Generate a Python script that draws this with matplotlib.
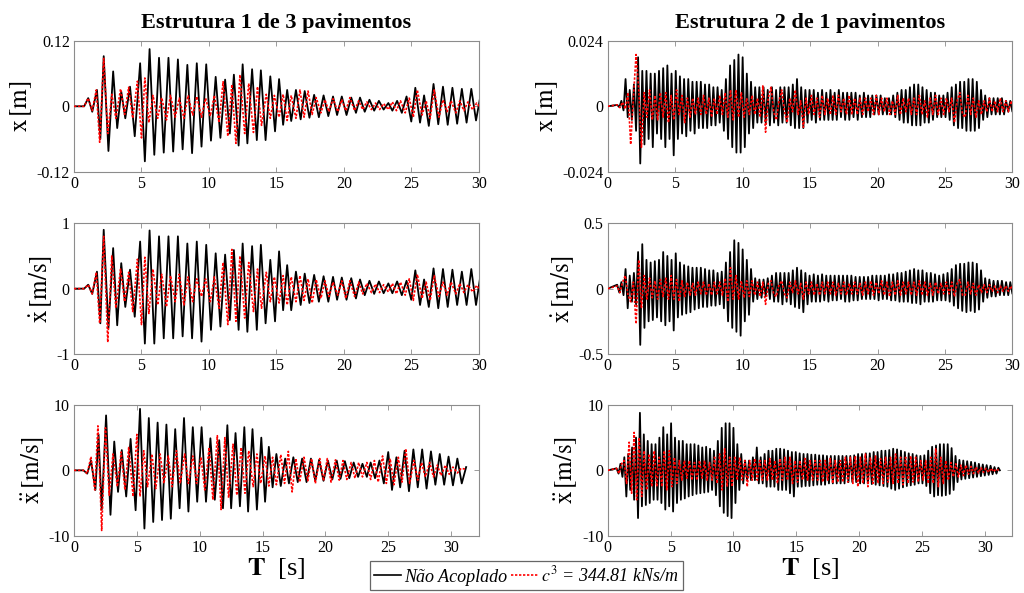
import matplotlib.pyplot as plt
import numpy as np
from matplotlib.lines import Line2D

plt.rcParams["font.family"] = ["Liberation Serif", "DejaVu Serif"]
plt.rcParams["mathtext.fontset"] = "stix"
plt.rcParams["axes.unicode_minus"] = False

# ---- Estrutura 1 (3 pavimentos): extremes ----
# times of the black (uncoupled) extremes [s]
t1_black = [
    0.0, 0.75, 1.05, 1.35, 1.7, 1.95, 2.2, 2.55, 2.9, 3.2,
    3.5, 3.8, 4.15, 4.5, 4.9, 5.25, 5.6, 5.95, 6.3, 6.65,
    7.0, 7.35, 7.7, 8.05, 8.4, 8.75, 9.1, 9.45, 9.8, 10.15,
    10.5, 10.85, 11.2, 11.55, 11.85, 12.2, 12.5, 12.85, 13.2, 13.55,
    13.85, 14.2, 14.55, 14.9, 15.2, 15.5, 15.8, 16.1, 16.45, 16.8,
    17.1, 17.45, 17.8, 18.15, 18.5, 18.85, 19.2, 19.5, 19.85, 20.2,
    20.55, 20.9, 21.2, 21.55, 21.9, 22.25, 22.6, 22.95, 23.3, 23.6,
    23.95, 24.3, 24.65, 25.0, 25.3, 25.65, 25.95, 26.3, 26.65, 27.0,
    27.35, 27.7, 28.05, 28.4, 28.75, 29.1, 29.45, 29.8, 30.15, 30.5,
    30.85, 31.2]
x1_black = [
    0, 0, 0.015, -0.010, 0.030, -0.060, 0.092, -0.082, 0.064, -0.040,
    0.027, -0.022, 0.036, -0.055, 0.079, -0.101, 0.105, -0.089, 0.089, -0.085,
    0.089, -0.083, 0.086, -0.079, 0.076, -0.086, 0.079, -0.074, 0.077, -0.063,
    0.054, -0.058, 0.049, -0.050, 0.058, -0.072, 0.077, -0.068, 0.068, -0.062,
    0.066, -0.062, 0.055, -0.046, 0.050, -0.034, 0.030, -0.027, 0.030, -0.024,
    0.028, -0.021, 0.021, -0.020, 0.020, -0.018, 0.018, -0.016, 0.018, -0.016,
    0.016, -0.012, 0.016, -0.010, 0.012, -0.008, 0.010, -0.006, 0.006, -0.008,
    0.010, -0.012, 0.018, -0.028, 0.034, -0.030, 0.020, -0.036, 0.041, -0.033,
    0.036, -0.034, 0.034, -0.032, 0.032, -0.030, 0.032, -0.026, 0.022, -0.020,
    0.020, -0.020]
v1_black = [
    0, 0, 0.06, -0.08, 0.26, -0.53, 0.90, -0.60, 0.62, -0.56,
    0.39, -0.28, 0.29, -0.43, 0.72, -0.84, 0.89, -0.84, 0.80, -0.76,
    0.80, -0.76, 0.80, -0.73, 0.69, -0.76, 0.72, -0.81, 0.67, -0.63,
    0.54, -0.58, 0.52, -0.48, 0.59, -0.63, 0.69, -0.66, 0.65, -0.63,
    0.67, -0.53, 0.44, -0.50, 0.57, -0.33, 0.36, -0.33, 0.26, -0.25,
    0.23, -0.22, 0.21, -0.20, 0.19, -0.20, 0.18, -0.17, 0.17, -0.17,
    0.16, -0.15, 0.14, -0.10, 0.12, -0.08, 0.11, -0.07, 0.08, -0.07,
    0.11, -0.10, 0.12, -0.17, 0.28, -0.25, 0.14, -0.28, 0.31, -0.30,
    0.30, -0.28, 0.29, -0.25, 0.26, -0.25, 0.30, -0.25, 0.23, -0.20,
    0.20, -0.20]
a1_black = [
    0, 0, -0.5, 1.5, -3.0, 5.5, -6.0, 8.4, -6.8, 4.4,
    -3.3, 3.1, -4.0, 4.8, -6.1, 9.4, -8.9, 8.0, -7.9, 7.3,
    -7.6, 7.0, -7.4, 6.3, -5.8, 8.0, -6.3, 6.6, -4.8, 6.6,
    -4.8, 4.9, -4.5, 4.6, -5.8, 6.9, -5.8, 5.7, -5.5, 6.6,
    -6.3, 6.3, -6.0, 5.0, -4.8, 3.6, -2.6, 2.5, -2.4, 1.8,
    -2.0, 2.0, -1.8, 1.8, -1.8, 1.8, -1.6, 1.6, -1.6, 1.5,
    -1.4, 1.5, -1.3, 1.4, -1.2, 1.2, -1.0, 1.0, -1.0, 1.2,
    -1.2, 1.5, -2.0, 2.8, -3.0, 2.0, -2.6, 3.0, -3.2, 3.2,
    -2.6, 3.2, -2.8, 2.9, -2.2, 2.5, -2.2, 2.1, -2.3, 1.8,
    -2.0, 0.5]

# times of the red (coupled) extremes [s]
t1_red = [
    0.0, 0.75, 1.05, 1.35, 1.65, 1.9, 2.2, 2.5, 2.8, 3.1,
    3.45, 3.75, 4.05, 4.35, 4.7, 5.0, 5.25, 5.55, 5.85, 6.2,
    6.5, 6.85, 7.15, 7.5, 7.8, 8.15, 8.45, 8.8, 9.1, 9.45,
    9.75, 10.1, 10.4, 10.75, 11.05, 11.4, 11.7, 12.0, 12.3, 12.65,
    12.95, 13.3, 13.6, 13.9, 14.25, 14.55, 14.85, 15.2, 15.5, 15.8,
    16.1, 16.45, 16.75, 17.05, 17.35, 17.65, 17.95, 18.3, 18.6, 18.9,
    19.2, 19.55, 19.85, 20.15, 20.45, 20.8, 21.1, 21.4, 21.7, 22.05,
    22.35, 22.65, 22.95, 23.3, 23.6, 23.9, 24.2, 24.55, 24.85, 25.15,
    25.45, 25.8, 26.1, 26.4, 26.7, 27.05, 27.35, 27.65, 27.95, 28.3,
    28.6, 28.9, 29.2, 29.55, 29.85, 30.15, 30.5, 30.8, 31.1]
x1_red = [
    0, 0, 0.015, -0.008, 0.030, -0.066, 0.088, -0.050, 0.022, -0.022,
    0.032, -0.015, 0.035, -0.022, 0.046, -0.058, 0.052, -0.030, 0.020, -0.022,
    0.016, -0.025, 0.020, -0.020, 0.015, -0.022, 0.020, -0.016, 0.018, -0.020,
    0.015, -0.018, 0.020, -0.030, 0.045, -0.055, 0.040, -0.068, 0.058, -0.050,
    0.042, -0.048, 0.036, -0.035, 0.022, -0.022, 0.020, -0.020, 0.022, -0.026,
    0.020, -0.022, 0.030, -0.020, 0.028, -0.015, 0.016, -0.012, 0.012, -0.010,
    0.014, -0.010, 0.012, -0.008, 0.016, -0.008, 0.010, -0.006, 0.008, -0.006,
    0.006, -0.006, 0.005, -0.006, 0.008, -0.008, 0.010, -0.012, 0.015, -0.020,
    0.030, -0.016, 0.010, -0.022, 0.030, -0.020, 0.012, -0.010, 0.010, -0.012,
    0.010, -0.008, 0.008, -0.006, 0.006, -0.004, 0.004, -0.003, 0.002]
v1_red = [
    0, 0, 0.06, -0.08, 0.25, -0.53, 0.80, -0.82, 0.50, -0.30,
    0.30, -0.20, 0.25, -0.35, 0.45, -0.55, 0.48, -0.38, 0.30, -0.25,
    0.22, -0.28, 0.20, -0.20, 0.22, -0.25, 0.18, -0.20, 0.15, -0.12,
    0.15, -0.20, 0.18, -0.30, 0.40, -0.55, 0.60, -0.50, 0.50, -0.45,
    0.40, -0.35, 0.30, -0.30, 0.25, -0.20, 0.18, -0.22, 0.20, -0.25,
    0.18, -0.20, 0.20, -0.18, 0.15, -0.22, 0.14, -0.15, 0.12, -0.12,
    0.10, -0.10, 0.12, -0.15, 0.12, -0.12, 0.10, -0.08, 0.08, -0.06,
    0.07, -0.06, 0.06, -0.05, 0.08, -0.08, 0.10, -0.10, 0.15, -0.18,
    0.22, -0.15, 0.10, -0.18, 0.20, -0.12, 0.10, -0.10, 0.10, -0.08,
    0.08, -0.06, 0.06, -0.05, 0.05, -0.04, 0.04, -0.03, 0.02]
a1_red = [
    0, 0, -0.5, 2.1, -3.0, 6.8, -9.2, 6.5, -3.8, 2.5,
    -2.5, 2.8, -3.0, 3.5, -4.0, 5.5, -4.0, 3.0, -2.5, 2.5,
    -2.8, 2.5, -2.0, 2.2, -2.5, 3.0, -2.0, 2.5, -2.0, 2.2,
    -2.0, 2.0, -3.0, 3.5, -4.5, 5.3, -6.0, 5.0, -4.2, 4.0,
    -3.8, 3.5, -3.5, 3.0, -2.5, 2.5, -2.0, 2.2, -2.4, 2.0,
    -2.2, 2.4, -2.0, 2.9, -3.3, 1.8, -1.8, 2.0, -1.6, 1.8,
    -2.0, 1.8, -1.6, 1.8, -1.8, 1.6, -1.5, 1.5, -1.4, 1.2,
    -1.2, 1.2, -1.0, 1.2, -1.4, 1.5, -1.8, 2.2, -2.0, 1.8,
    -2.2, 2.0, -1.8, 3.3, -2.0, 1.5, -1.5, 1.2, -1.0, 1.2,
    -1.0, 0.8, -0.8, 0.8, -0.6, 0.5, -0.4, 0.3, 0.2]

# ---- Estrutura 2 (1 pavimento) ----
t2_black = [
    0.0,
    0.70, 0.86, 1.01, 1.17, 1.32, 1.48, 1.63, 1.79, 1.94, 2.10,
    2.25, 2.41, 2.56, 2.72, 2.87, 3.03, 3.18, 3.34, 3.49, 3.65,
    3.80, 3.96, 4.11, 4.27, 4.42, 4.58, 4.73, 4.89, 5.04, 5.20,
    5.35, 5.51, 5.66, 5.82, 5.97, 6.13, 6.28, 6.44, 6.59, 6.75,
    6.90, 7.06, 7.21, 7.37, 7.52, 7.68, 7.83, 7.99, 8.14, 8.30,
    8.45, 8.61, 8.76, 8.92, 9.07, 9.23, 9.38, 9.54, 9.69, 9.85,
    10.00, 10.16, 10.31, 10.47, 10.62, 10.78, 10.93, 11.09, 11.24, 11.40,
    11.55, 11.71, 11.86, 12.02, 12.17, 12.33, 12.48, 12.64, 12.79, 12.95,
    13.10, 13.26, 13.41, 13.57, 13.72, 13.88, 14.03, 14.19, 14.34, 14.50,
    14.65, 14.81, 14.96, 15.12, 15.27, 15.43, 15.58, 15.74, 15.89, 16.05,
    16.20, 16.36, 16.51, 16.67, 16.82, 16.98, 17.13, 17.29, 17.44, 17.60,
    17.75, 17.91, 18.06, 18.22, 18.37, 18.53, 18.68, 18.84, 18.99, 19.15,
    19.30, 19.46, 19.61, 19.77, 19.92, 20.08, 20.23, 20.39, 20.54, 20.70,
    20.85, 21.01, 21.16, 21.32, 21.47, 21.63, 21.78, 21.94, 22.09, 22.25,
    22.40, 22.56, 22.71, 22.87, 23.02, 23.18, 23.33, 23.49, 23.64, 23.80,
    23.95, 24.11, 24.26, 24.42, 24.57, 24.73, 24.88, 25.04, 25.19, 25.35,
    25.50, 25.66, 25.81, 25.97, 26.12, 26.28, 26.43, 26.59, 26.74, 26.90,
    27.05, 27.21, 27.36, 27.52, 27.67, 27.83, 27.98, 28.14, 28.29, 28.45,
    28.60, 28.76, 28.91, 29.07, 29.22, 29.38, 29.53, 29.69, 29.84, 30.00,
    30.15, 30.31, 30.46, 30.62, 30.77, 30.93, 31.08, 31.20]
x2_black_mm = [
    0.0,
    0.5, -0.3, 2.0, -1.5, 10.0, -4.0, 6.0, -5.0, 8.0, -9.0,
    18.0, -21.0, 13.0, -14.0, 13.0, -12.0, 12.0, -15.0, 12.0, -10.0,
    13.0, -12.0, 14.0, -15.0, 15.0, -12.0, 12.0, -18.0, 13.0, -12.0,
    11.0, -10.0, 10.0, -11.0, 10.0, -9.0, 9.0, -10.0, 9.0, -8.0,
    9.0, -8.0, 8.0, -8.0, 8.0, -7.0, 7.0, -7.0, 7.0, -6.0,
    6.0, -9.0, 10.0, -12.0, 15.0, -15.0, 17.0, -17.0, 19.0, -17.0,
    18.0, -15.0, 12.0, -10.0, 9.0, -8.0, 7.0, -6.0, 7.0, -6.0,
    7.0, -6.0, 6.0, -7.0, 7.0, -6.0, 6.0, -7.0, 7.0, -6.0,
    7.0, -6.0, 7.0, -7.0, 8.0, -8.0, 10.0, -8.0, 7.0, -8.0,
    6.0, -6.0, 6.0, -5.0, 6.0, -6.0, 5.0, -5.0, 6.0, -5.0,
    5.0, -5.0, 6.0, -5.0, 5.0, -5.0, 6.0, -4.0, 5.0, -5.0,
    5.0, -5.0, 5.0, -4.0, 5.0, -5.0, 4.0, -4.0, 5.0, -4.0,
    4.0, -4.0, 4.0, -3.0, 4.0, -3.0, 4.0, -3.0, 3.0, -3.0,
    3.0, -3.0, 4.0, -4.0, 5.0, -5.0, 6.0, -6.0, 6.0, -6.0,
    7.0, -7.0, 8.0, -7.0, 8.0, -7.0, 7.0, -6.0, 6.0, -6.0,
    5.0, -5.0, 5.0, -4.0, 4.0, -4.0, 4.0, -4.0, 5.0, -5.0,
    7.0, -7.0, 8.0, -8.0, 9.0, -8.0, 9.0, -9.0, 10.0, -9.0,
    10.0, -9.0, 9.0, -8.0, 6.0, -5.0, 4.0, -4.0, 3.0, -3.0,
    3.0, -3.0, 3.0, -3.0, 3.0, -3.0, 2.0, -2.0, 2.0, -2.0,
    2.0, -2.0, 2.0, -2.0, 1.0, -1.0, 1.0, 0.0]
v2_black = [
    0.0,
    0.03, -0.03, 0.05, -0.05, 0.15, -0.15, 0.10, -0.10, 0.12, -0.12,
    0.28, -0.43, 0.34, -0.30, 0.22, -0.25, 0.20, -0.24, 0.21, -0.22,
    0.22, -0.25, 0.28, -0.28, 0.25, -0.25, 0.22, -0.32, 0.27, -0.22,
    0.20, -0.20, 0.18, -0.19, 0.17, -0.18, 0.16, -0.16, 0.16, -0.15,
    0.16, -0.14, 0.15, -0.14, 0.14, -0.13, 0.14, -0.13, 0.12, -0.12,
    0.13, -0.15, 0.20, -0.25, 0.28, -0.30, 0.37, -0.33, 0.35, -0.36,
    0.30, -0.25, 0.22, -0.20, 0.15, -0.10, 0.08, -0.08, 0.07, -0.07,
    0.07, -0.06, 0.08, -0.08, 0.10, -0.10, 0.12, -0.10, 0.12, -0.12,
    0.12, -0.10, 0.12, -0.12, 0.14, -0.14, 0.16, -0.15, 0.14, -0.18,
    0.12, -0.12, 0.10, -0.10, 0.11, -0.10, 0.10, -0.10, 0.11, -0.09,
    0.10, -0.10, 0.10, -0.09, 0.10, -0.09, 0.10, -0.08, 0.10, -0.10,
    0.10, -0.10, 0.10, -0.09, 0.09, -0.09, 0.09, -0.08, 0.09, -0.08,
    0.09, -0.08, 0.10, -0.08, 0.10, -0.09, 0.10, -0.08, 0.10, -0.08,
    0.11, -0.09, 0.11, -0.09, 0.12, -0.10, 0.12, -0.10, 0.13, -0.10,
    0.14, -0.11, 0.15, -0.11, 0.14, -0.12, 0.14, -0.10, 0.12, -0.10,
    0.12, -0.10, 0.11, -0.09, 0.10, -0.09, 0.11, -0.09, 0.12, -0.10,
    0.15, -0.13, 0.18, -0.15, 0.19, -0.17, 0.19, -0.18, 0.20, -0.17,
    0.20, -0.18, 0.19, -0.16, 0.14, -0.10, 0.08, -0.07, 0.07, -0.06,
    0.06, -0.06, 0.06, -0.05, 0.06, -0.05, 0.05, -0.05, 0.05, -0.04,
    0.04, -0.04, 0.04, -0.03, 0.03, -0.02, 0.02, 0.0]
a2_black = [
    0.0,
    0.3, -0.5, 1.0, -1.0, 2.0, -4.0, 2.5, -3.0, 3.5, -4.5,
    5.0, -7.3, 8.8, -5.5, 5.5, -5.3, 4.5, -5.0, 4.0, -4.5,
    4.0, -4.5, 5.0, -5.0, 6.6, -6.0, 5.5, -5.5, 7.2, -6.3,
    5.0, -5.0, 4.5, -4.5, 4.5, -4.3, 4.0, -4.0, 4.0, -3.8,
    4.0, -3.6, 3.8, -3.5, 3.5, -3.4, 3.6, -3.3, 3.3, -3.0,
    3.0, -3.8, 4.5, -5.5, 6.5, -6.5, 7.2, -7.0, 7.2, -7.3,
    6.5, -5.0, 4.0, -3.0, 2.5, -2.0, 1.5, -1.5, 1.5, -1.5,
    2.0, -1.5, 3.5, -2.0, 2.0, -2.0, 2.5, -2.5, 3.0, -2.5,
    3.0, -2.5, 3.3, -3.0, 3.3, -3.0, 3.2, -3.0, 3.0, -3.5,
    2.8, -4.0, 2.8, -2.5, 2.6, -2.5, 2.5, -2.4, 2.5, -2.4,
    2.4, -2.3, 2.4, -2.2, 2.3, -2.2, 2.3, -2.2, 2.2, -2.0,
    2.2, -2.0, 2.2, -2.0, 2.2, -2.0, 2.2, -2.0, 2.2, -1.8,
    2.2, -1.8, 2.3, -1.8, 2.5, -2.0, 2.5, -2.0, 2.6, -2.0,
    2.6, -2.1, 2.8, -2.2, 2.8, -2.3, 3.0, -2.4, 3.0, -2.5,
    3.1, -2.8, 3.3, -3.0, 3.2, -2.8, 3.0, -2.6, 2.8, -2.4,
    2.6, -2.3, 2.5, -2.2, 2.3, -2.0, 2.2, -2.0, 2.3, -2.4,
    3.0, -3.5, 3.6, -4.0, 3.8, -3.8, 4.0, -3.9, 4.0, -3.8,
    4.0, -3.6, 3.4, -3.0, 2.2, -1.8, 1.6, -1.4, 1.5, -1.3,
    1.4, -1.2, 1.3, -1.1, 1.2, -1.0, 1.0, -0.9, 0.9, -0.8,
    0.8, -0.7, 0.7, -0.6, 0.5, -0.5, 0.4, 0.0]

t2_red = [
    0.0,
    0.7, 0.9, 1.1, 1.3, 1.5, 1.7, 1.9, 2.1, 2.3, 2.5,
    2.7, 2.9, 3.1, 3.3, 3.5, 3.7, 3.9, 4.1, 4.3, 4.5,
    4.7, 4.9, 5.1, 5.3, 5.5, 5.7, 5.9, 6.1, 6.3, 6.5,
    6.7, 6.9, 7.1, 7.3, 7.5, 7.7, 7.9, 8.1, 8.3, 8.5,
    8.7, 8.9, 9.1, 9.3, 9.5, 9.7, 9.9, 10.1, 10.3, 10.5,
    10.7, 10.9, 11.1, 11.3, 11.5, 11.7, 11.9, 12.1, 12.3, 12.5,
    12.7, 12.9, 13.1, 13.3, 13.5, 13.7, 13.9, 14.1, 14.3, 14.5,
    14.7, 14.9, 15.1, 15.3, 15.5, 15.7, 15.9, 16.1, 16.3, 16.5,
    16.7, 16.9, 17.1, 17.3, 17.5, 17.7, 17.9, 18.1, 18.3, 18.5,
    18.7, 18.9, 19.1, 19.3, 19.5, 19.7, 19.9, 20.1, 20.3, 20.5,
    20.7, 20.9, 21.1, 21.3, 21.5, 21.7, 21.9, 22.1, 22.3, 22.5,
    22.7, 22.9, 23.1, 23.3, 23.5, 23.7, 23.9, 24.1, 24.3, 24.5,
    24.7, 24.9, 25.1, 25.3, 25.5, 25.7, 25.9, 26.1, 26.3, 26.5,
    26.7, 26.9, 27.1, 27.3, 27.5, 27.7, 27.9, 28.1, 28.3, 28.5,
    28.7, 28.9, 29.1, 29.3, 29.5, 29.7, 29.9, 30.1, 30.3, 30.5,
    30.7, 30.9, 31.1]
x2_red_mm = [
    0.0,
    0.5, -0.5, 1.5, -1.0, 5.0, -14.0, 3.0, 19.0, 6.0, -15.0,
    5.0, -4.0, 6.0, -5.0, 4.0, -5.0, 5.0, -4.0, 5.0, -6.0,
    4.0, -5.0, 6.0, -3.0, 4.0, -6.0, 3.0, -4.0, 3.0, -3.0,
    3.0, -3.0, 4.0, -3.0, 3.0, -4.0, 3.0, -3.0, 4.0, -3.0,
    5.0, -4.0, 6.0, -5.0, 6.0, -4.0, 5.0, -4.0, 3.0, -3.0,
    4.0, -3.0, 3.0, -4.0, 7.5, -9.5, 3.0, 7.0, -2.0, -5.0,
    2.0, 6.0, -2.0, -6.0, 3.0, -2.0, 6.0, -3.0, 2.0, -7.7,
    3.0, -3.0, 4.0, -3.0, 3.0, -4.0, 4.0, -3.0, 3.0, -3.0,
    4.0, -3.0, 4.0, -2.0, 3.0, -3.0, 4.0, -3.0, 3.0, -3.0,
    3.0, -3.0, 3.0, -2.0, 3.0, -3.0, 4.0, -3.0, 3.0, -2.0,
    3.0, -3.0, 2.0, -3.0, 4.0, -3.0, 3.0, -2.0, 3.0, -3.0,
    3.0, -3.0, 4.0, -3.0, 2.0, -4.0, 3.0, -3.0, 4.0, -3.0,
    3.0, -3.0, 3.0, -2.0, 3.0, -6.0, 2.0, 5.0, -3.0, -4.0,
    4.0, -3.0, 3.0, -4.0, 2.0, -3.0, 2.0, -2.0, 3.0, -2.0,
    2.0, -2.0, 3.0, -2.0, 2.0, -2.0, 2.0, -1.0, 2.0, -1.0,
    1.0, -1.0, 0.5]
v2_red = [
    0.0,
    0.02, -0.03, 0.05, 0.10, -0.05, -0.10, 0.05, -0.27, 0.22, -0.15,
    0.10, -0.08, 0.08, -0.07, 0.06, -0.08, 0.07, -0.06, 0.08, -0.08,
    0.10, -0.08, 0.07, -0.10, 0.06, -0.06, 0.05, -0.05, 0.04, -0.05,
    0.05, -0.04, 0.05, -0.05, 0.04, -0.05, 0.05, -0.04, 0.05, -0.05,
    0.08, -0.10, 0.16, -0.08, 0.10, -0.08, 0.06, -0.07, 0.06, -0.06,
    0.06, -0.05, 0.05, -0.06, 0.05, -0.12, 0.04, 0.06, -0.04, -0.06,
    0.03, 0.06, -0.04, -0.07, 0.05, -0.03, 0.06, -0.04, 0.04, -0.08,
    0.05, -0.04, 0.05, -0.05, 0.04, -0.05, 0.05, -0.04, 0.05, -0.04,
    0.05, -0.05, 0.04, -0.04, 0.05, -0.05, 0.04, -0.04, 0.05, -0.04,
    0.04, -0.05, 0.05, -0.04, 0.06, -0.05, 0.05, -0.04, 0.06, -0.05,
    0.05, -0.06, 0.05, -0.05, 0.06, -0.05, 0.05, -0.04, 0.05, -0.05,
    0.05, -0.05, 0.06, -0.05, 0.05, -0.05, 0.04, -0.05, 0.05, -0.04,
    0.04, -0.04, 0.05, -0.04, 0.05, -0.06, 0.04, 0.07, -0.05, -0.05,
    0.05, -0.04, 0.04, -0.05, 0.03, -0.03, 0.03, -0.03, 0.03, -0.02,
    0.02, -0.03, 0.02, -0.02, 0.02, -0.02, 0.02, -0.02, 0.01, -0.01,
    0.01, -0.01, 0.0]
a2_red = [
    0.0,
    0.3, -0.5, 1.0, 1.5, -2.0, 4.3, -3.5, 5.8, -4.5, 5.0,
    -4.0, 3.0, -3.0, 2.5, -2.5, 3.0, -2.5, 2.0, -2.5, 3.0,
    -3.0, 3.0, -2.5, 2.0, -2.0, 1.5, -1.5, 1.5, -1.2, 1.5,
    -1.5, 1.2, -1.5, 1.5, -1.2, 1.5, -1.5, 1.2, -1.5, 2.0,
    -2.0, 2.5, -3.0, 3.3, -2.5, 2.0, -2.5, 2.0, -1.5, 2.0,
    -1.5, 1.5, -2.5, 1.5, -1.5, 1.8, -1.5, 1.5, -1.5, 1.5,
    -1.5, 1.8, -1.5, 1.5, -2.0, 1.8, -1.5, 2.0, -1.5, 2.0,
    -2.0, 1.5, -1.8, 1.5, -1.5, 1.8, -1.5, 1.5, -1.5, 1.5,
    -1.5, 1.5, -1.8, 1.5, -1.5, 1.8, -2.0, 1.5, -1.8, 1.5,
    -1.8, 2.0, -1.8, 2.0, -2.0, 2.2, -2.5, 2.0, -2.0, 2.5,
    -2.5, 2.0, -2.0, 2.2, -2.0, 1.8, -2.0, 2.0, -1.8, 2.0,
    -2.0, 2.5, -2.0, 2.0, -2.2, 2.0, -2.0, 2.2, -1.8, 2.0,
    -1.8, 1.5, -1.5, 1.5, -2.0, 2.0, -2.0, 3.3, -2.5, 2.0,
    -2.0, 1.5, -1.5, 1.2, -1.0, 1.0, -1.0, 0.8, -0.8, 0.8,
    -0.6, 0.6, -0.5, 0.5, -0.4, 0.4, -0.3, 0.3, -0.3, 0.3,
    -0.2, 0.2, 0.0]

titles = ["Estrutura 1 de 3 pavimentos", "Estrutura 2 de 1 pavimentos"]
ylabels = [r"$\mathrm{x}\,[\mathrm{m}]$",
           r"$\dot{\mathrm{x}}\,[\mathrm{m/s}]$",
           r"$\ddot{\mathrm{x}}\,[\mathrm{m/s}]$"]
xticks = [0, 5, 10, 15, 20, 25, 30]
ylims_1 = [0.12, 1, 10]
ylims_2 = [0.024, 0.5, 10]
yticklabels_1 = [["-0.12", "0", "0.12"], ["-1", "0", "1"], ["-10", "0", "10"]]
yticklabels_2 = [["-0.024", "0", "0.024"], ["-0.5", "0", "0.5"], ["-10", "0", "10"]]
legend_labels = ["Não Acoplado", r"$c^3$ = 344.81 kNs/m"]

fig = plt.figure(figsize=(10.24, 5.93), dpi=100)

COL_X = [0.0723, 0.5935]
COL_W = 0.3952
ROW_B = [0.7105, 0.403, 0.0966]
ROW_H = 0.2205
FRAME = "#8c8c8c"
RED_DOTS = (0, (1.4, 1.0))


def panel(col, row, tb, yb, tr, yr, ylim, yticklabels):
    ax = fig.add_axes([COL_X[col], ROW_B[row], COL_W, ROW_H])
    ax.plot(tb, yb, color="black", lw=1.3, zorder=2)
    ax.plot(tr, yr, color="red", lw=1.2, ls=RED_DOTS, zorder=3)
    ax.set_xlim(0, 32.2 if row == 2 else 30)
    ax.set_ylim(-ylim, ylim)
    ax.set_xticks(xticks)
    ax.set_yticks([-ylim, 0, ylim])
    ax.set_yticklabels(yticklabels)
    ax.tick_params(direction="in", top=True, right=True, length=3.5, width=0.6,
                   color=FRAME, labelsize=11.5, pad=3)
    for s in ax.spines.values():
        s.set_color(FRAME)
        s.set_linewidth(0.8)
    ax.set_ylabel(ylabels[row], fontsize=18, labelpad=2)
    if row == 0:
        ax.set_title(titles[col], fontsize=16, fontweight="bold", pad=9)
    if row == 2:
        ax.set_xlabel(r"$\mathbf{T}$  [s]", fontsize=19, labelpad=0)
    return ax


panel(0, 0, t1_black, x1_black, t1_red, x1_red, ylims_1[0], yticklabels_1[0])
panel(0, 1, t1_black, v1_black, t1_red, v1_red, ylims_1[1], yticklabels_1[1])
panel(0, 2, t1_black, a1_black, t1_red, a1_red, ylims_1[2], yticklabels_1[2])
panel(1, 0, t2_black, np.array(x2_black_mm) / 1000, t2_red, np.array(x2_red_mm) / 1000,
      ylims_2[0], yticklabels_2[0])
panel(1, 1, t2_black, v2_black, t2_red, v2_red, ylims_2[1], yticklabels_2[1])
panel(1, 2, t2_black, a2_black, t2_red, a2_red, ylims_2[2], yticklabels_2[2])

handles = [Line2D([], [], color="black", lw=1.2),
           Line2D([], [], color="red", lw=1.2, ls=RED_DOTS)]
leg = fig.legend(handles, legend_labels, loc="center", bbox_to_anchor=(0.514, 0.0295),
                 ncol=2, frameon=True, fancybox=False, edgecolor="#404040",
                 prop={"style": "italic", "size": 13}, handlelength=1.5,
                 handletextpad=0.15, columnspacing=0.2, borderpad=0.25)
leg.get_frame().set_linewidth(0.9)

fig.savefig("out.png", dpi=100)
